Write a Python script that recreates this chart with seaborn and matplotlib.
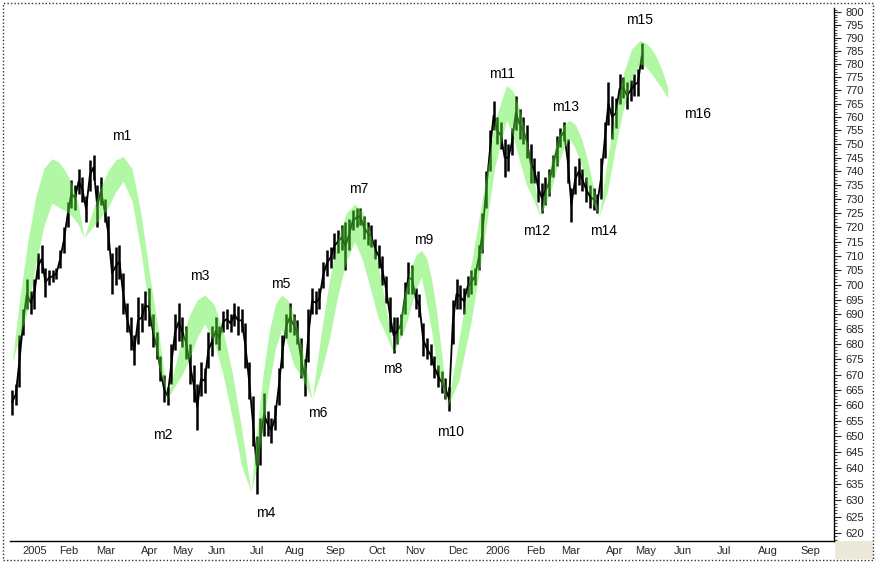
import numpy as np
import pandas as pd
import matplotlib
matplotlib.use("Agg")
import matplotlib.pyplot as plt
import matplotlib.transforms as mtransforms
from matplotlib.patches import Rectangle
from matplotlib.ticker import FixedLocator, FixedFormatter, NullFormatter
import seaborn as sns

# Price bars, one every two trading days (high / low)
bar_step = 2
bar_high = [665, 667, 683, 692, 702, 698, 702, 711, 714, 706,
            705, 705, 706, 712, 720, 729, 737, 735, 741, 738,
            731, 744, 746, 735, 738, 730, 724, 711, 713, 714,
            704, 694, 689, 683, 696, 694, 698, 699, 690, 684,
            676, 670, 666, 680, 690, 694, 689, 686, 680, 673,
            667, 674, 672, 684, 686, 689, 686, 691, 692, 690,
            694, 693, 692, 687, 674, 663, 650, 656, 664, 658,
            656, 660, 672, 683, 690, 694, 690, 688, 682, 675,
            692, 699, 698, 699, 708, 712, 713, 718, 719, 721,
            722, 723, 726, 727, 727, 724, 722, 721, 716, 714,
            710, 703, 696, 689, 689, 690, 701, 708, 707, 699,
            697, 687, 682, 680, 676, 673, 671, 669, 666, 695,
            702, 700, 699, 703, 705, 706, 714, 725, 740, 755,
            766, 760, 758, 752, 750, 756, 768, 763, 760, 757,
            750, 745, 740, 736, 738, 741, 746, 753, 756, 758,
            752, 734, 742, 745, 741, 738, 735, 734, 732, 745,
            758, 773, 768, 767, 776, 775, 773, 774, 776, 778,
            788]
bar_low = [657, 660, 666, 683, 692, 690, 692, 702, 704, 696,
           700, 701, 702, 706, 711, 720, 727, 726, 732, 729,
           722, 733, 737, 720, 728, 722, 712, 697, 700, 702,
           690, 684, 678, 673, 680, 684, 688, 686, 679, 675,
           668, 661, 660, 667, 678, 681, 679, 675, 667, 661,
           652, 663, 664, 672, 676, 680, 678, 684, 685, 684,
           686, 683, 684, 672, 662, 647, 632, 641, 650, 650,
           648, 652, 660, 672, 682, 684, 683, 680, 669, 663,
           674, 690, 690, 692, 699, 703, 706, 709, 711, 712,
           705, 712, 719, 720, 721, 716, 714, 713, 709, 706,
           700, 694, 684, 677, 680, 683, 690, 697, 697, 692,
           689, 676, 675, 673, 669, 666, 664, 662, 658, 680,
           692, 692, 690, 696, 697, 700, 705, 711, 727, 740,
           755, 750, 748, 738, 740, 746, 755, 752, 750, 745,
           736, 736, 729, 725, 728, 731, 738, 742, 749, 751,
           736, 722, 732, 735, 733, 729, 727, 726, 725, 730,
           745, 757, 752, 756, 765, 767, 763, 766, 768, 768,
           778]

# Cycle band (outer and inner arcs), in trading days
band_days = [0, 4.3, 8.6, 12.9, 17.2, 21.5, 25, 28.5, 32, 35.5, 39,
             43.2, 47.4, 51.6, 55.8, 60, 64.8, 69.6, 74.4, 79.2, 84,
             88, 92, 96, 100, 104, 109, 114, 119, 124, 129,
             132.3, 135.6, 138.9, 142.2, 145.5, 148.8, 152.1, 155.4, 158.7, 162,
             166.6, 171.2, 175.8, 180.4, 185, 189.2, 193.4, 197.6, 201.8, 206,
             209, 212, 215, 218, 221, 223.8, 226.6, 229.4, 232.2, 235,
             241.4, 247.8, 254.2, 260.6, 267, 270.6, 274.2, 277.8, 281.4, 285,
             288.2, 291.4, 294.6, 297.8, 301, 304.2, 307.4, 310.6, 313.8, 317,
             321.4, 325.8, 330.2, 334.6, 339, 342, 345, 348, 351, 354]
band_top = [674, 695.8, 715.5, 731.1, 741.1, 744.6, 743.5, 740.5, 736, 729, 716.3,
            725.3, 733.5, 739.9, 744.1, 745.5, 741, 725, 703, 684, 662,
            672.7, 682.3, 690.0, 694.9, 696.6, 693.5, 684.4, 670.3, 652.4, 632.7,
            652.4, 670.3, 684.4, 693.5, 696.6, 694.9, 689.9, 682.1, 672.3, 662,
            682.5, 700.9, 715.6, 725.0, 728.2, 725.7, 718.4, 707.1, 692.8, 677,
            687.8, 697.6, 705.3, 710.3, 712, 709.4, 701.9, 690.3, 675.6, 659.3,
            681.8, 706.6, 731.3, 758.3, 771.8, 769.5, 762.7, 752.1, 738.8, 724,
            734.8, 744.5, 752.2, 757.1, 758.8, 757.1, 752.2, 744.5, 734.8, 724,
            744.1, 762.2, 776.6, 785.8, 789, 788, 786, 782.5, 777.5, 771]
band_bottom = [674, 682.7, 691.8, 707.4, 720.5, 728.6, 727.2, 726.0, 724.2, 721.4, 716.3,
               719.9, 723.2, 726.6, 732.5, 736.5, 729.4, 711.7, 689.7, 672.4, 662,
               666.3, 670.1, 675.5, 682.3, 686.8, 680.9, 669.9, 655.8, 640.6, 632.7,
               640.6, 653.1, 667.2, 678.5, 685.0, 679.9, 673.2, 670.0, 666.1, 662,
               670.2, 681.4, 696.1, 708.0, 715.0, 708.7, 698.9, 689.0, 683.3, 677,
               681.3, 685.2, 691.7, 698.4, 702.8, 693.9, 684.2, 672.6, 665.8, 659.3,
               668.3, 687.4, 712.1, 741.5, 758.8, 752.7, 743.5, 735.2, 729.9, 724,
               728.3, 734.4, 742.1, 748.3, 752, 748.3, 742.1, 734.4, 728.3, 724,
               732.5, 748.9, 763.3, 774.2, 780, 779, 776.5, 773.5, 770.5, 767]

# cycle labels
mark_names = ["m1", "m2", "m3", "m4", "m5", "m6", "m7", "m8",
              "m9", "m10", "m11", "m12", "m13", "m14", "m15", "m16"]
mark_days = [59, 81.5, 101.5, 137, 145, 165, 187, 205.5,
             222.5, 236.5, 264.5, 283, 299, 319.5, 339, 370]
mark_prices = [752.9, 650.6, 703.1, 626.1, 700.3, 657.5, 733.5, 671.8,
               715.6, 651.4, 776.1, 718.7, 763.7, 718.7, 796.9, 761.0]

# x axis months
month_names = ["2005", "Feb", "Mar", "Apr", "May", "Jun", "Jul", "Aug", "Sep", "Oct",
               "Nov", "Dec", "2006", "Feb", "Mar", "Apr", "May", "Jun", "Jul", "Aug", "Sep"]
month_days = [4, 24, 44, 68, 85, 104, 127, 146, 168, 191,
              211, 234, 254, 276, 295, 319, 335, 356, 379, 401, 424]

sns.set_style("white")
plt.rcParams["font.family"] = ["Liberation Sans", "DejaVu Sans"]

bars = pd.DataFrame({"day": np.arange(len(bar_high)) * bar_step,
                     "high": bar_high, "low": bar_low})
bars["mid"] = (bars["high"] + bars["low"]) / 2

fig = plt.figure(figsize=(8.75, 5.62), dpi=100)
ax = fig.add_axes([10 / 875, 21 / 562, 824 / 875, 533 / 562])

ax.vlines(bars["day"], bars["low"], bars["high"], color="black", lw=1.8, zorder=2)
sns.lineplot(data=bars, x="day", y="mid", color="black", lw=1.3, ax=ax, zorder=2)

ax.fill_between(band_days, band_bottom, band_top, color="#55ee33", alpha=0.45,
                lw=0, zorder=3)

for name, d, p in zip(mark_names, mark_days, mark_prices):
    ax.text(d, p, name, ha="center", va="center", fontsize=10, color="black", zorder=4)

ax.set_yscale("log")
ax.set_ylim(617.6, 801.6)
ax.set_xlim(-1.1, 443.8)

ax.yaxis.tick_right()
ax.yaxis.set_major_locator(FixedLocator(list(range(620, 801, 5))))
ax.yaxis.set_major_formatter(FixedFormatter([str(v) for v in range(620, 801, 5)]))
ax.yaxis.set_minor_locator(FixedLocator(list(range(618, 802))))
ax.yaxis.set_minor_formatter(NullFormatter())
ax.tick_params(axis="y", which="major", length=5, width=0.8, pad=3.5,
               labelsize=8, direction="out", right=True, left=False)
ax.tick_params(axis="y", which="minor", length=2.5, width=0.6,
               direction="out", right=True, left=False)

ax.set_xticks(month_days)
ax.set_xticklabels(month_names)
ax.xaxis.set_minor_locator(FixedLocator(list(np.arange(-2, 444, 5))))
ax.tick_params(axis="x", which="major", length=11, width=0.8, pad=-7.5,
               labelsize=8, direction="out")
ax.tick_params(axis="x", which="minor", length=3, width=0.6, direction="out")
shift = mtransforms.ScaledTranslation(2 / 72, 0, fig.dpi_scale_trans)
for lab in ax.get_xticklabels():
    lab.set_horizontalalignment("left")
    lab.set_transform(lab.get_transform() + shift)

ax.set_xlabel("")
ax.set_ylabel("")
for side in ["left", "top"]:
    ax.spines[side].set_visible(False)
for side in ["right", "bottom"]:
    ax.spines[side].set_color("black")
    ax.spines[side].set_linewidth(1.0)

# beige corner box and dotted frame
fig.add_artist(Rectangle((835 / 875, 3 / 562), 38 / 875, 18 / 562,
                         transform=fig.transFigure, color="#ece9d8", lw=0, zorder=0))
fig.add_artist(Rectangle((2.5 / 875, 2.5 / 562), 870 / 875, 557 / 562,
                         transform=fig.transFigure, fill=False, ec="#333333",
                         lw=1.0, ls=(0, (1, 1.5))))

fig.savefig("out.png", dpi=100)
